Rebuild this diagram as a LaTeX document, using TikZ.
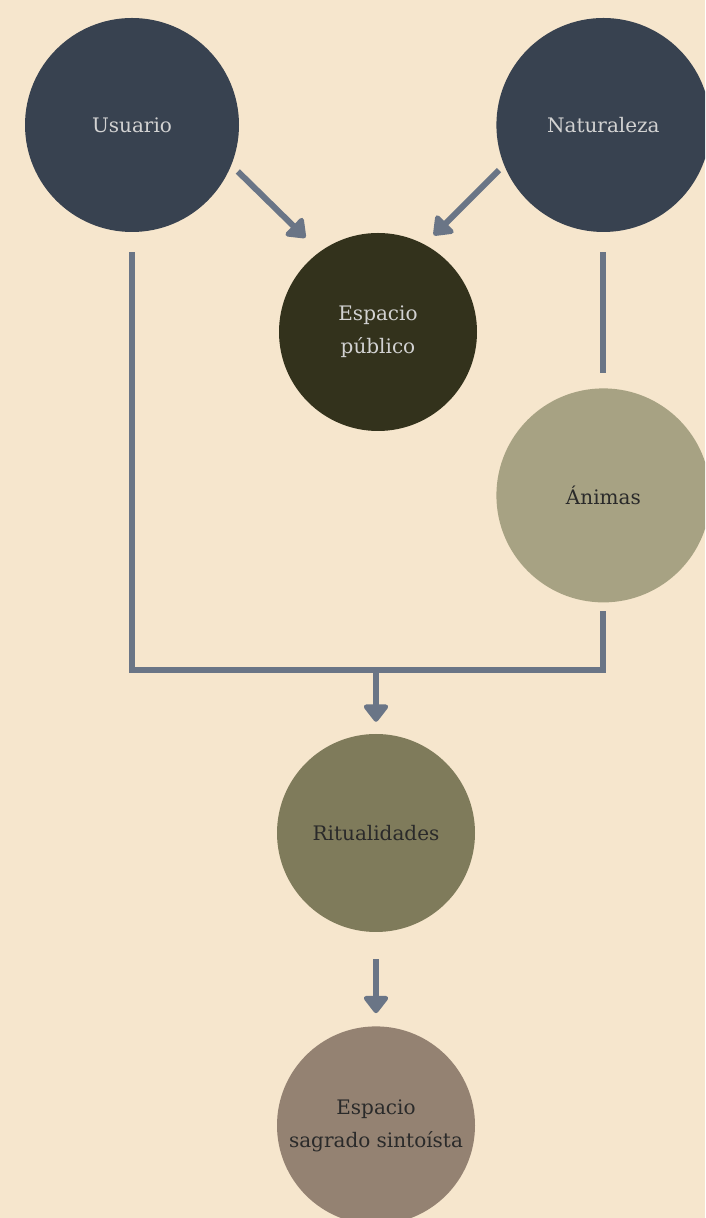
\documentclass[tikz,border=0pt]{standalone}
\usepackage{fontspec}
\setmainfont{DejaVu Serif}
\usetikzlibrary{arrows.meta, positioning, calc}
\definecolor{bgcream}{RGB}{246,230,205}
\definecolor{slate}{RGB}{56,66,80}
\definecolor{darkolive}{RGB}{51,50,28}
\definecolor{sage}{RGB}{167,162,131}
\definecolor{olive}{RGB}{127,123,91}
\definecolor{taupe}{RGB}{148,130,114}
\definecolor{linegray}{RGB}{106,117,134}
\definecolor{lighttext}{RGB}{210,210,210}
\definecolor{darktext}{RGB}{42,42,42}

\begin{document}
\begin{tikzpicture}[x=1pt, y=1pt,
    bubble/.style={circle, minimum size=198pt, inner sep=0pt, align=center, font=\fontsize{20}{33}\selectfont, text=darktext},
    big/.style={bubble, minimum size=214pt},
    flow/.style={-{Triangle[length=19pt, width=28pt, round]}, line width=6pt, color=linegray},
    link/.style={line width=6pt, color=linegray}
]
\fill[bgcream] (0,0) rectangle (705,1218);
\useasboundingbox (0,0) rectangle (705,1218);
\clip (0,0) rectangle (705,1218);
\node[big, fill=slate, text=lighttext] (usr) at (132,1093) {Usuario};
\node[big, fill=slate, text=lighttext, right=257pt of usr] (nat) {Naturaleza};
\node[bubble, fill=darkolive, text=lighttext] (pub) at (378,886) {Espacio\\público};
\node[big, fill=sage, below=156pt of nat] (ani) {Ánimas};
\node[bubble, fill=olive] (rit) at (376,385) {Ritualidades};
\node[bubble, fill=taupe, below=94pt of rit] (sag) {Espacio\\sagrado sintoísta};
\coordinate (merge) at ($(rit.north)+(0,64)$);
\draw[flow, shorten <=9pt, shorten >=20pt] (usr.-22) -- (pub.126);
\draw[flow, shorten <=7pt, shorten >=13pt] (nat.202) -- (pub.62);
\draw[link] ([yshift=-20pt]nat.south) -- ([yshift=15pt]ani.north);
\draw[link] ([yshift=-20pt]usr.south) |- (merge) -| ([yshift=-8pt]ani.south);
\draw[flow] (merge) -- ([yshift=12pt]rit.north);
\draw[flow] ([yshift=-27pt]rit.south) -- ([yshift=13pt]sag.north);
\end{tikzpicture}
\end{document}
